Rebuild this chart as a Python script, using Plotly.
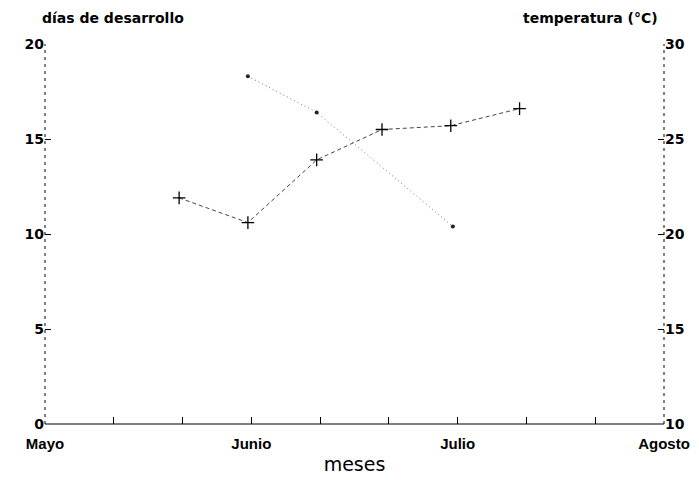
import plotly.graph_objects as go

# x is days counted from 1 May (ticks every 10 days)
temp_days = [19.5, 29.5, 39.5, 49, 59, 69]
temp_values = [21.9, 20.6, 23.9, 25.5, 25.7, 26.6]

dev_days = [29.5, 39.5, 59.3]
dev_values = [18.3, 16.4, 10.4]

x_ticks = [0, 10, 20, 30, 40, 50, 60, 70, 80, 90]
x_labels = ["Mayo", "", "", "Junio", "", "", "Julio", "", "", "Agosto"]
left_ticks = [0, 5, 10, 15, 20]
right_ticks = [10, 15, 20, 25, 30]

FONT = "DejaVu Sans"
FONT2 = "Liberation Sans"

fig = go.Figure()
fig.add_trace(go.Scatter(
    x=dev_days, y=dev_values, mode="lines+markers", yaxis="y",
    line=dict(color="#777777", width=1, dash="1px,3px"),
    marker=dict(symbol="circle", size=4, color="#222222"),
    showlegend=False,
))
fig.add_trace(go.Scatter(
    x=temp_days, y=temp_values, mode="lines+markers", yaxis="y2",
    line=dict(color="#444444", width=1, dash="4px,3px"),
    marker=dict(symbol="cross-thin", size=9, line=dict(color="black", width=1.3)),
    showlegend=False,
))

# page body adds 8px offset, so the figure is sized to fit the window
fig.update_layout(
    width=691, height=472,
    margin=dict(l=37, r=35, t=36, b=56, autoexpand=False),
    paper_bgcolor="white", plot_bgcolor="white",
    font=dict(family=FONT, color="black", size=14),
    xaxis=dict(
        range=[0, 90], tickvals=x_ticks, ticktext=x_labels,
        ticks="inside", ticklen=7, tickcolor="black",
        showgrid=False, zeroline=False, showline=False,
        ticklabelstandoff=9,
        tickfont=dict(family=FONT2, size=15, weight="bold"),
        title=dict(text="meses", font=dict(family=FONT, size=19), standoff=6),
    ),
    yaxis=dict(
        range=[0, 20], tickvals=left_ticks,
        ticks="inside", ticklen=6, tickcolor="black",
        showgrid=False, zeroline=False, showline=False,
        ticksuffix="\u00a0",
        tickfont=dict(family=FONT, size=14, weight="bold"),
    ),
    yaxis2=dict(
        range=[10, 30], tickvals=right_ticks, overlaying="y", side="right",
        ticks="inside", ticklen=6, tickcolor="black",
        showgrid=False, zeroline=False, showline=False,
        tickfont=dict(family=FONT, size=14, weight="bold"),
    ),
    shapes=[
        dict(type="line", xref="paper", yref="paper", x0=0, x1=1, y0=0, y1=0,
             line=dict(color="black", width=1.2)),
        dict(type="line", xref="paper", yref="paper", x0=0, x1=0, y0=0, y1=1,
             line=dict(color="black", width=1, dash="3px,4px")),
        dict(type="line", xref="paper", yref="paper", x0=1, x1=1, y0=0, y1=1,
             line=dict(color="black", width=1, dash="3px,4px")),
    ],
    annotations=[
        dict(text="días de desarrollo", xref="paper", yref="paper", x=-0.008, y=1.0,
             xanchor="left", yanchor="middle", yshift=26, showarrow=False,
             font=dict(family=FONT, size=14, weight="bold")),
        dict(text="temperatura (°C)", xref="paper", yref="paper", x=0.9935, y=1.0,
             xanchor="right", yanchor="middle", yshift=26, showarrow=False,
             font=dict(family=FONT, size=14, weight="bold")),
    ],
)

fig.write_html("out.html")
